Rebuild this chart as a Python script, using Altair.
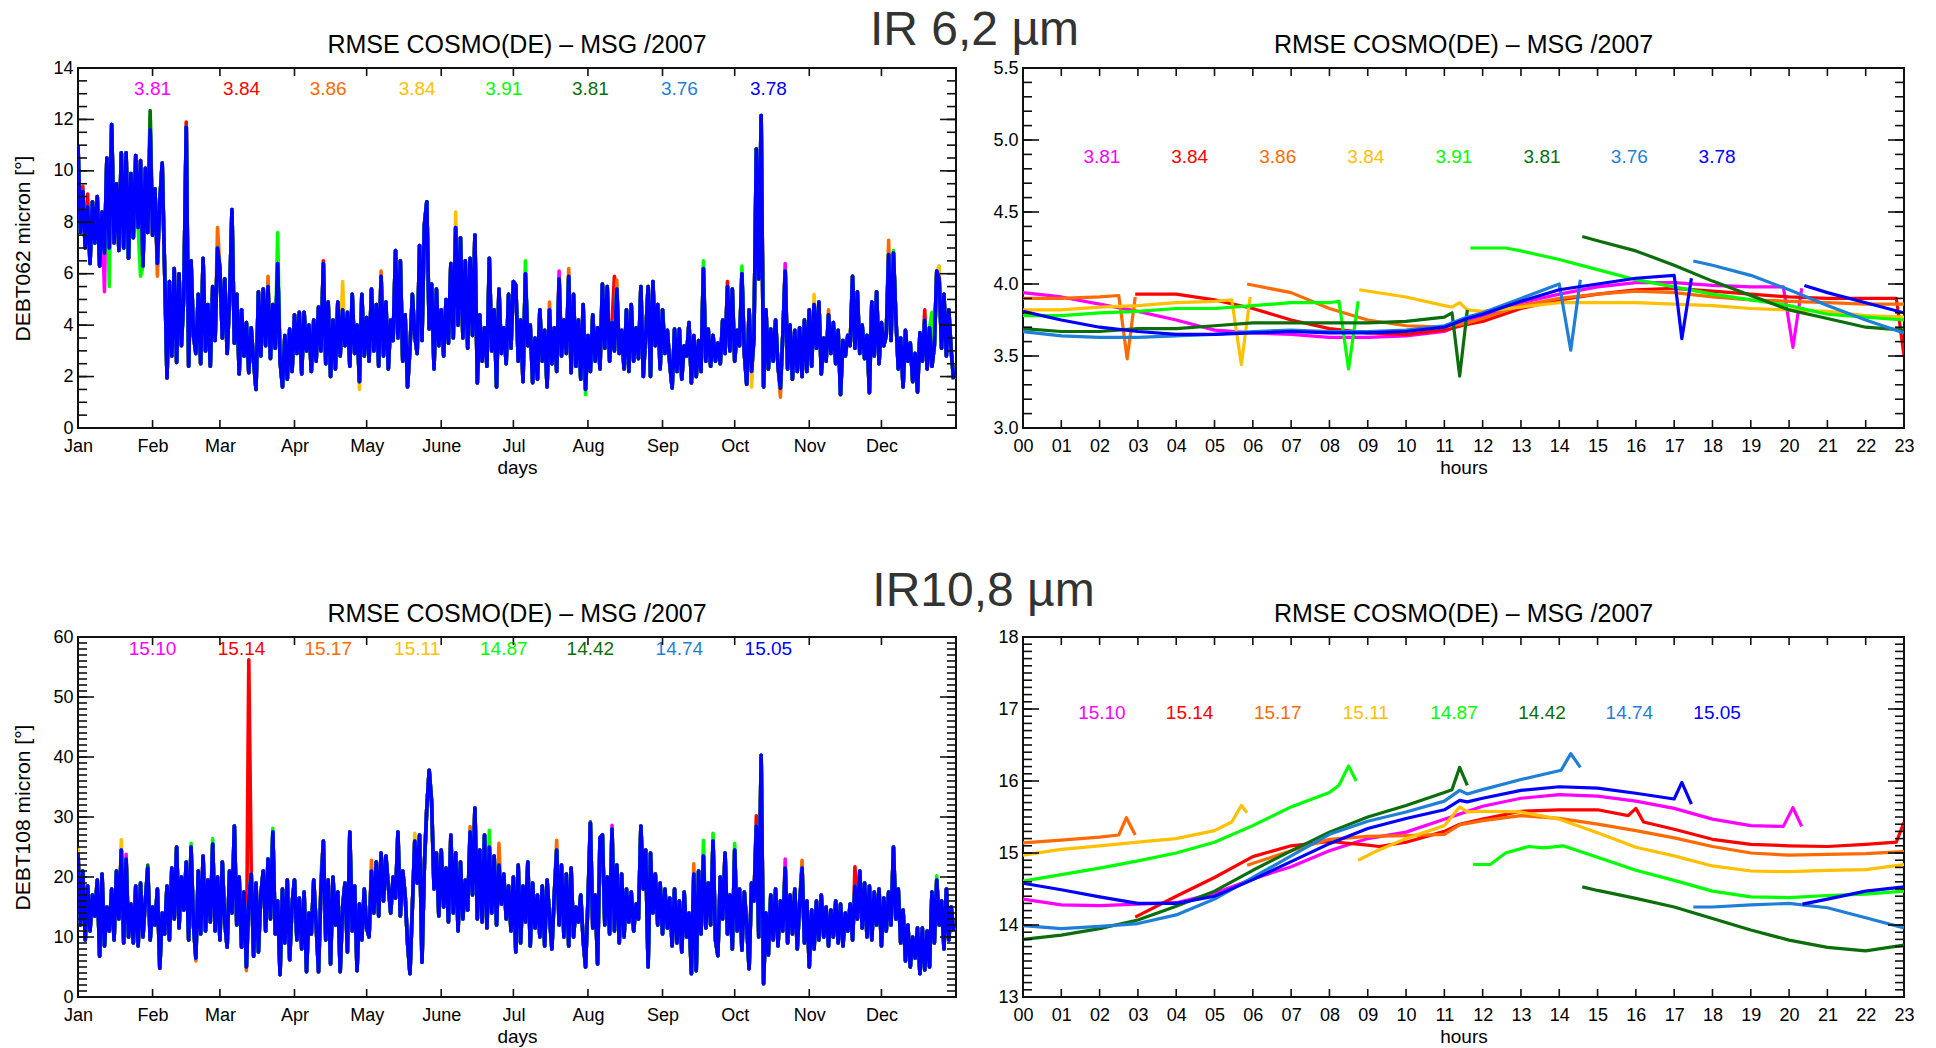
import altair as alt
import pandas as pd

FONT = "Liberation Sans"
FRAME = "#111111"

# Forecast runs and their line colours
SERIES = ["magenta", "red", "orange", "yellow", "green", "darkgreen", "steelblue", "blue"]
COLORS = ["#ff00ff", "#ff0000", "#ff6a00", "#ffc000", "#00ff00", "#0b6e0b", "#1f7fd6", "#0000ff"]

MONTH_STARTS = [0, 31, 59, 90, 120, 151, 181, 212, 243, 273, 304, 334]
MONTH_NAMES = ["Jan", "Feb", "Mar", "Apr", "May", "June", "Jul", "Aug", "Sep", "Oct", "Nov", "Dec"]
HOUR_TICKS = list(range(24))

IR62_MEANS = ["3.81", "3.84", "3.86", "3.84", "3.91", "3.81", "3.76", "3.78"]
IR108_MEANS = ["15.10", "15.14", "15.17", "15.11", "14.87", "14.42", "14.74", "15.05"]
DAILY_LABEL_DAYS = [31, 68, 104, 141, 177, 213, 250, 287]
HOURLY_LABEL_HOURS = [2.06, 4.35, 6.65, 8.95, 11.25, 13.55, 15.83, 18.12]

# ---------------- IR 6.2 daily RMSE (day of year 0..364) ----------------
IR62_DAILY = [
    11.0, 7.6, 9.2, 7.0, 8.6, 6.4, 8.8, 7.2, 9.0, 6.3,
    8.4, 6.8, 10.5, 7.0, 11.8, 7.2, 9.5, 6.9, 10.7, 7.0,
    10.7, 6.6, 9.9, 7.4, 10.6, 7.8, 10.4, 6.3, 10.1, 7.6,
    11.6, 7.5, 9.3, 6.4, 8.8, 10.3, 6.2, 1.95,
    5.7, 2.8, 6.2, 2.55, 6.0, 3.2, 5.2, 11.7, 2.4, 6.5,
    3.6, 2.9, 5.2, 2.5, 6.6, 3.0, 4.8, 2.4, 5.5, 3.4,
    7.0, 6.2, 3.5, 5.8, 2.9, 5.0, 8.5, 3.3, 5.2, 2.1,
    4.6, 2.8, 4.1, 2.15, 3.9, 2.6, 1.5, 5.3, 2.8, 5.4,
    3.2, 5.5, 2.7, 4.8, 3.1, 6.4, 2.6, 1.6, 3.6, 1.9,
    3.85, 2.2, 4.4, 2.9, 4.5, 2.1, 4.5, 3.0, 4.0, 2.2,
    4.2, 2.6, 4.7, 3.0, 6.4, 2.5, 4.9, 2.0, 4.2, 2.3,
    4.9, 2.8, 4.6, 3.2, 4.5, 2.4, 5.2, 2.9, 4.0, 1.8,
    5.2, 2.8, 4.3, 2.6, 5.4, 3.0, 4.8, 2.4, 5.9, 2.8,
    4.9, 2.3, 4.2, 3.4, 6.9, 3.5, 6.5, 2.6, 4.4, 1.6,
    3.1, 5.2, 3.6, 2.9, 7.1, 3.4, 7.9, 8.8, 3.85, 5.6,
    2.3, 5.4, 3.2, 4.6, 2.8, 5.0, 3.3, 6.4, 3.5, 7.8,
    4.0, 7.4, 3.5, 6.5, 3.1, 6.6, 3.6, 7.5, 1.75, 4.4,
    2.6, 3.9, 2.4, 6.6, 3.0, 4.6, 1.6, 5.4, 2.9, 3.9,
    2.5, 5.2, 3.1, 5.7, 5.55, 2.6, 4.2, 1.8, 6.0, 3.2,
    4.0, 1.76, 3.5, 1.9, 4.6, 2.6, 3.8, 1.6, 4.6, 2.5,
    3.9, 2.2, 5.8, 2.8, 4.2, 2.9, 5.9, 2.15, 5.2, 2.4,
    4.2, 1.9, 4.8, 1.5, 3.6, 2.2, 4.4, 2.6, 3.9, 2.3,
    5.6, 3.1, 5.5, 2.6, 4.1, 3.0, 5.4, 2.9, 3.8, 2.3,
    4.6, 2.2, 4.8, 2.6, 3.9, 2.7, 5.5, 2.0, 3.6, 5.5,
    2.0, 5.7, 3.2, 4.8, 2.3, 4.6, 2.9, 3.8, 2.5, 1.56,
    3.85, 2.2, 3.85, 1.9, 3.2, 2.8, 4.1, 1.75, 3.6, 2.0,
    3.4, 2.2, 6.2, 2.6, 3.85, 2.4, 3.6, 2.6, 3.3, 2.5,
    4.2, 2.9, 5.5, 3.0, 5.4, 2.6, 3.8, 3.2, 6.0, 2.9,
    1.7, 4.6, 2.2, 3.5, 10.85, 5.8, 12.15, 1.6, 4.6, 2.3,
    3.85, 2.6, 4.2, 2.4, 1.55, 3.6, 6.1, 2.3, 4.0, 1.9,
    3.8, 2.2, 3.9, 2.0, 4.2, 2.2, 4.6, 2.4, 4.8, 3.1,
    4.9, 2.1, 3.5, 2.6, 4.4, 2.9, 4.1, 2.5, 3.8, 1.3,
    3.4, 2.8, 3.6, 3.2, 5.9, 3.1, 5.3, 2.9, 4.0, 2.7,
    3.6, 1.37, 4.9, 2.8, 5.3, 2.5, 4.1, 3.2, 3.6, 6.75,
    3.4, 6.8, 4.3, 2.3, 3.5, 1.6, 3.8, 2.6, 3.3, 1.8,
    2.9, 1.4, 3.7, 2.6, 4.2, 2.3, 3.9, 2.4, 3.2, 6.1,
    5.8, 3.1, 5.2, 2.8, 4.6, 3.0, 1.9,
]
# days on which a run departs from the shared curve (day: value)
IR62_MAGENTA_PEAKS = {11: 5.3, 200: 6.1, 294: 6.4, 357: 6.0}
IR62_RED_PEAKS = {2: 9.4, 4: 9.1, 45: 11.9, 102: 6.5, 223: 5.9, 270: 5.7, 352: 4.6}
IR62_ORANGE_PEAKS = {33: 5.9, 58: 7.8, 79: 5.9, 126: 6.1, 196: 4.9, 204: 6.2,
                     224: 5.75, 292: 1.2, 312: 4.6, 337: 7.3}
IR62_YELLOW_PEAKS = {110: 5.7, 117: 1.5, 157: 8.4, 280: 1.6, 306: 5.2, 358: 6.3}
IR62_GREEN_PEAKS = {13: 5.5, 26: 5.9, 30: 12.2, 83: 7.6, 186: 6.5, 211: 1.3, 260: 6.5, 276: 6.3,
                    339: 6.9, 355: 4.5}
IR62_DKGREEN_PEAKS = {30: 12.35, 35: 10.3}
IR62_STEEL_PEAKS = {}

# ---------------- IR 10.8 daily RMSE ----------------
IR108_DAILY = [
    24.0, 12.0, 21.0, 9.5, 18.5, 11.0, 17.0, 13.5, 19.5, 6.8,
    20.5, 8.5, 15.0, 11.0, 18.0, 9.5, 21.0, 13.0, 24.5, 9.0,
    23.0, 10.0, 15.5, 9.0, 18.5, 8.5, 19.0, 10.0, 16.0, 21.5,
    9.5, 15.0, 12.0, 18.0, 4.8, 14.0, 10.5, 18.5, 9.5, 21.5,
    13.0, 25.0, 11.5, 20.0, 14.5, 22.5, 9.5, 25.0, 12.0, 6.5,
    21.0, 10.5, 23.5, 11.0, 19.5, 12.5, 25.5, 11.0, 20.0, 9.5,
    22.5, 12.5, 8.3, 21.0, 14.0, 28.5, 12.0, 20.0, 8.3, 17.5,
    5.0, 16.0, 20.5, 6.8, 19.0, 7.5, 17.0, 21.0, 11.0, 23.0,
    13.0, 27.5, 10.5, 16.0, 3.7, 18.0, 9.0, 19.5, 6.2, 15.5,
    19.5, 9.5, 16.5, 8.0, 17.5, 4.2, 14.0, 10.5, 19.5, 12.0,
    4.2, 18.0, 26.0, 9.5, 19.5, 5.5, 20.0, 12.0, 17.5, 4.2,
    15.0, 19.0, 7.5, 27.5, 11.0, 18.5, 4.4, 15.5, 9.5, 18.0,
    11.5, 10.0, 21.0, 14.0, 22.5, 13.5, 24.0, 16.0, 23.5, 18.5,
    14.0, 20.0, 16.5, 27.5, 13.5, 21.0, 17.0, 9.0, 3.9, 15.0,
    26.0, 19.0, 27.0, 5.8, 22.0, 31.5, 37.8, 32.5, 18.0, 24.0,
    13.5, 24.5, 15.0, 21.5, 12.5, 27.0, 14.0, 24.0, 11.0, 22.5,
    13.0, 19.5, 14.5, 27.5, 17.0, 31.5, 13.0, 24.5, 12.5, 27.0,
    11.5, 25.0, 14.0, 23.5, 12.0, 22.0, 15.5, 20.5, 13.0, 18.5,
    11.0, 20.0, 7.5, 22.0, 9.0, 18.5, 12.5, 22.5, 8.5, 19.0,
    11.5, 17.0, 10.0, 18.5, 8.5, 19.5, 13.5, 8.0, 17.0, 24.5,
    12.0, 22.0, 10.0, 20.5, 8.5, 21.5, 10.0, 15.0, 12.5, 17.0,
    9.5, 5.0, 16.0, 29.0, 11.5, 17.0, 5.5, 26.5, 27.0, 12.0,
    20.0, 10.5, 28.0, 11.0, 22.0, 9.0, 20.5, 10.0, 18.0, 12.5,
    17.5, 11.0, 15.5, 13.0, 28.5, 18.0, 24.5, 5.0, 24.0, 14.0,
    20.5, 12.0, 19.0, 10.5, 18.0, 11.5, 16.5, 8.5, 18.0, 9.0,
    16.0, 7.5, 17.5, 10.0, 14.0, 3.9, 20.5, 4.4, 21.0, 10.5,
    23.5, 11.5, 19.0, 12.0, 26.0, 9.5, 6.9, 20.0, 13.0, 24.0,
    10.5, 17.0, 8.0, 24.5, 11.0, 18.0, 7.8, 17.5, 12.0, 4.7,
    19.0, 16.0, 28.5, 10.0, 40.3, 2.2, 14.0, 7.0, 17.0, 9.5,
    18.0, 8.5, 16.0, 11.0, 21.5, 9.0, 17.0, 10.5, 18.0, 8.0,
    15.5, 21.5, 9.0, 16.0, 5.0, 14.5, 8.0, 16.0, 9.5, 17.0,
    10.0, 15.0, 8.5, 14.5, 10.0, 16.0, 9.0, 15.5, 8.5, 14.0,
    11.0, 15.5, 9.5, 18.5, 13.0, 21.0, 11.5, 19.0, 10.0, 18.5,
    9.5, 17.5, 12.0, 18.0, 8.5, 16.5, 11.0, 17.5, 12.0, 25.0,
    13.0, 18.0, 9.0, 14.5, 6.0, 12.0, 5.0, 10.0, 6.5, 11.5,
    3.9, 11.5, 4.5, 11.0, 5.0, 17.5, 9.0, 19.5, 12.0, 16.0,
    8.0, 18.0, 9.5, 15.0, 11.0,
]
IR108_MAGENTA_PEAKS = {20: 23.8, 222: 28.6, 294: 23.0}
IR108_RED_PEAKS = {71: 56.2, 72: 21.4, 282: 30.2, 323: 21.7}
IR108_ORANGE_PEAKS = {0: 24.5, 49: 6.0, 70: 4.4, 101: 20.3, 122: 22.8, 163: 28.4,
                      175: 25.6, 199: 26.1, 256: 22.2, 301: 22.8}
IR108_YELLOW_PEAKS = {0: 25.0, 18: 26.2, 140: 27.3, 147: 33.0}
IR108_GREEN_PEAKS = {47: 25.6, 56: 26.4, 81: 28.1, 171: 27.8, 260: 26.1, 264: 27.3,
                     273: 25.6, 357: 20.2}
IR108_DKGREEN_PEAKS = {29: 22.0, 213: 29.2}
IR108_STEEL_PEAKS = {}

# ---------------- IR 6.2 mean RMSE by hour (None = gap between segments) ----------------
IR62_MAGENTA_H = [0, 1, 2, 3, 4, 5, 6, 7, 8, 9, 10, 11, 11.6, 12, 13, 14, 15, 16, 17, 18, 19, 19.85, 20.1, 20.33]
IR62_MAGENTA_V = [3.94, 3.91, 3.86, 3.81, 3.75, 3.68, 3.66, 3.65, 3.63, 3.63, 3.64, 3.67, 3.74, 3.77, 3.87,
                  3.93, 3.98, 4.01, 4.01, 3.99, 3.98, 3.98, 3.56, 3.97]
IR62_RED_H = [2.93, 4, 5, 6, 7, 8, 9, 10, 11, 11.6, 12, 13, 14, 15, 16, 17, 18, 19, 20, 21, 22, 22.8, 23]
IR62_RED_V = [3.93, 3.93, 3.89, 3.83, 3.75, 3.69, 3.66, 3.65, 3.68, 3.72, 3.74, 3.83, 3.89, 3.93, 3.96,
              3.97, 3.95, 3.93, 3.91, 3.90, 3.90, 3.90, 3.50]
IR62_ORANGE_H = [0, 1, 2, 2.5, 2.72, 2.93, None, 5.85, 7, 8, 9, 10, 11, 11.6, 12, 13, 14, 15, 16, 17, 18,
                 19, 20, 21, 22, 23]
IR62_ORANGE_V = [3.90, 3.90, 3.91, 3.92, 3.48, 3.91, None, 4.00, 3.94, 3.83, 3.75, 3.71, 3.70, 3.73, 3.76,
                 3.85, 3.90, 3.93, 3.95, 3.94, 3.91, 3.89, 3.88, 3.87, 3.86, 3.86]
IR62_YELLOW_H = [0, 1, 2, 3, 4, 5, 5.45, 5.7, 5.93, None, 8.78, 10, 11, 11.2, 11.4, 11.6, 12, 13, 14, 15,
                 16, 17, 18, 19, 20, 21, 22, 23]
IR62_YELLOW_V = [3.82, 3.82, 3.84, 3.85, 3.87, 3.88, 3.89, 3.44, 3.91, None, 3.96, 3.91, 3.85, 3.84, 3.87,
                 3.82, 3.81, 3.84, 3.87, 3.87, 3.87, 3.86, 3.85, 3.83, 3.82, 3.81, 3.78, 3.77]
IR62_GREEN_H = [0, 1, 2, 3, 4, 5, 6, 7, 8, 8.25, 8.5, 8.75, None, 11.68, 12.6, 13, 14, 15, 16, 17, 18, 19,
                20, 21, 22, 23]
IR62_GREEN_V = [3.78, 3.78, 3.80, 3.81, 3.83, 3.83, 3.85, 3.87, 3.87, 3.88, 3.41, 3.88, None, 4.25, 4.25,
                4.23, 4.17, 4.10, 4.03, 3.98, 3.93, 3.89, 3.85, 3.79, 3.77, 3.75]
IR62_DKGREEN_H = [0, 1, 2, 3, 4, 5, 6, 7, 8, 9, 10, 11, 11.2, 11.4, 11.6, None, 14.6, 15, 16, 17, 18, 19,
                  20, 21, 22, 23]
IR62_DKGREEN_V = [3.69, 3.67, 3.67, 3.69, 3.69, 3.71, 3.73, 3.73, 3.73, 3.73, 3.74, 3.77, 3.80, 3.36, 3.82,
                  None, 4.33, 4.30, 4.23, 4.13, 4.02, 3.92, 3.82, 3.76, 3.70, 3.68]
IR62_STEEL_H = [0, 1, 2, 3, 4, 5, 6, 7, 8, 9, 10, 11, 11.6, 12, 13, 14, 14.3, 14.55, None, 17.5, 18, 19,
                20, 21, 22, 23]
IR62_STEEL_V = [3.67, 3.64, 3.63, 3.63, 3.64, 3.65, 3.67, 3.68, 3.67, 3.67, 3.68, 3.71, 3.77, 3.80, 3.90,
                4.00, 3.54, 4.03, None, 4.16, 4.13, 4.06, 3.96, 3.85, 3.75, 3.66]
IR62_BLUE_H = [0, 1, 2, 3, 4, 5, 6, 7, 8, 9, 10, 11, 11.6, 12, 13, 14, 15, 16, 17, 17.2, 17.45, None,
               20.4, 21, 22, 23]
IR62_BLUE_V = [3.81, 3.75, 3.70, 3.67, 3.65, 3.65, 3.66, 3.67, 3.66, 3.66, 3.67, 3.70, 3.76, 3.79, 3.88,
               3.96, 4.00, 4.04, 4.06, 3.62, 4.04, None, 3.99, 3.94, 3.87, 3.80]

# ---------------- IR 10.8 mean RMSE by hour ----------------
IR108_MAGENTA_H = [0, 1, 2, 3, 4, 5, 6, 7, 8, 9, 10, 11, 12, 13, 14, 15, 16, 17, 18, 19, 19.85, 20.1, 20.33]
IR108_MAGENTA_V = [14.36, 14.28, 14.27, 14.29, 14.31, 14.44, 14.64, 14.81, 15.03, 15.20, 15.29, 15.47,
                   15.65, 15.76, 15.81, 15.79, 15.72, 15.62, 15.47, 15.38, 15.37, 15.63, 15.37]
IR108_RED_H = [2.93, 4, 5, 6, 7, 8, 9, 9.3, 10, 11, 11.4, 12, 13, 14, 15, 15.8, 16, 16.2, 17, 18, 19, 20,
               21, 22, 22.8, 23]
IR108_RED_V = [14.11, 14.40, 14.66, 14.95, 15.10, 15.16, 15.11, 15.09, 15.15, 15.30, 15.40, 15.47, 15.58,
               15.60, 15.60, 15.52, 15.62, 15.43, 15.33, 15.19, 15.12, 15.10, 15.09, 15.12, 15.15, 15.43]
IR108_ORANGE_H = [0, 1, 2, 2.5, 2.7, 2.93, None, 5.85, 7, 8, 9, 10, 11, 11.4, 12, 13, 14, 15, 16, 17, 18,
                  19, 20, 21, 22, 23]
IR108_ORANGE_V = [15.14, 15.18, 15.22, 15.25, 15.49, 15.25, None, 14.83, 15.03, 15.19, 15.23, 15.24, 15.26,
                  15.39, 15.45, 15.52, 15.48, 15.40, 15.31, 15.21, 15.09, 15.00, 14.97, 14.98, 14.99, 15.02]
IR108_YELLOW_H = [0, 1, 2, 3, 4, 5, 5.45, 5.7, 5.85, None, 8.75, 9.2, 10, 11, 11.4, 11.6, 12, 13, 14, 15,
                  16, 17, 18, 19, 20, 21, 22, 23]
IR108_YELLOW_V = [14.97, 15.05, 15.10, 15.15, 15.20, 15.31, 15.43, 15.66, 15.56, None, 14.90, 15.02, 15.20,
                  15.38, 15.64, 15.57, 15.58, 15.57, 15.47, 15.28, 15.08, 14.96, 14.82, 14.75, 14.74, 14.76,
                  14.77, 14.84]
IR108_GREEN_H = [0, 1, 2, 3, 4, 5, 6, 7, 8, 8.25, 8.5, 8.7, None, 11.75, 12.2, 12.6, 13.2, 13.6, 14.1, 15,
                 16, 17, 18, 19, 20, 21, 22, 23]
IR108_GREEN_V = [14.61, 14.70, 14.79, 14.89, 15.00, 15.15, 15.38, 15.64, 15.84, 15.94, 16.21, 16.00, None,
                 14.84, 14.84, 15.00, 15.09, 15.07, 15.10, 14.94, 14.76, 14.62, 14.47, 14.39, 14.38, 14.41,
                 14.43, 14.47]
IR108_DKGREEN_H = [0, 1, 2, 3, 4, 5, 6, 7, 8, 9, 10, 11, 11.2, 11.4, 11.6, None, 14.6, 15, 16, 17, 18, 19,
                   20, 21, 22, 23]
IR108_DKGREEN_V = [13.80, 13.86, 13.95, 14.07, 14.26, 14.47, 14.76, 15.03, 15.29, 15.50, 15.66, 15.84,
                   15.88, 16.19, 15.94, None, 14.53, 14.48, 14.37, 14.25, 14.09, 13.93, 13.79, 13.69,
                   13.64, 13.72]
IR108_STEEL_H = [0, 1, 2, 3, 4, 5, 6, 7, 8, 9, 10, 11, 11.4, 11.6, 12, 13, 14.05, 14.3, 14.55, None, 17.5,
                 18, 19, 20, 21, 22, 23]
IR108_STEEL_V = [13.99, 13.95, 13.98, 14.02, 14.14, 14.36, 14.66, 14.96, 15.26, 15.44, 15.57, 15.72, 15.87,
                 15.82, 15.88, 16.02, 16.15, 16.38, 16.19, None, 14.25, 14.25, 14.28, 14.30, 14.24, 14.10,
                 13.96]
IR108_BLUE_H = [0, 1, 2, 3, 4, 5, 6, 7, 8, 9, 10, 11, 11.4, 11.6, 12, 13, 14, 15, 16, 17, 17.2, 17.45,
                None, 20.35, 21, 22, 23]
IR108_BLUE_V = [14.58, 14.49, 14.39, 14.30, 14.30, 14.40, 14.63, 14.88, 15.13, 15.34, 15.48, 15.60, 15.73,
                15.71, 15.76, 15.87, 15.92, 15.90, 15.83, 15.75, 15.98, 15.68, None, 14.29, 14.36, 14.47,
                14.53]


def daily_frame(base, peaks):
    rows = []
    for name, pk in zip(SERIES, peaks):
        for day, v in enumerate(base):
            rows.append({"x": day, "value": pk.get(day, v), "series": name, "segment": name})
    return pd.DataFrame(rows)


def hourly_frame(pairs):
    rows = []
    for name, (hours, values) in zip(SERIES, pairs):
        seg = 0
        for h, v in zip(hours, values):
            if h is None:
                seg += 1
                continue
            rows.append({"x": h, "value": v, "series": name, "segment": f"{name}-{seg}"})
    return pd.DataFrame(rows)


COLOR = alt.Color("series:N", scale=alt.Scale(domain=SERIES, range=COLORS), legend=None)


def panel(df, xdom, xticks, xlabel_expr, xtitle, ydom, ymajor, yminor, yfmt, ytitle,
          means, label_x, label_y, width, height, line_width):
    xs = alt.Scale(domain=xdom, nice=False, zero=False)
    ys = alt.Scale(domain=ydom, nice=False, zero=False)
    xaxis = alt.Axis(values=xticks, labelExpr=xlabel_expr, title=xtitle, ticks=False, domain=False,
                     grid=False, labelFontSize=18, labelFont=FONT, labelColor="black", labelPadding=9,
                     labelFlush=False, labelOverlap=False, titleFont=FONT, titleFontSize=19,
                     titleFontWeight="normal", titleColor="black", titlePadding=3)
    yaxis = alt.Axis(values=ymajor, format=yfmt, title=ytitle, ticks=False, domain=False, grid=False,
                     labelFontSize=18, labelFont=FONT, labelColor="black", labelPadding=5,
                     labelFlush=False, labelOverlap=False, titleFont=FONT, titleFontSize=21,
                     titleFontWeight="normal", titleColor="black", titlePadding=19)
    X = alt.X("x:Q", scale=xs, axis=xaxis)
    Y = alt.Y("value:Q", scale=ys, axis=yaxis)

    line = alt.Chart(df[df.series != "blue"]).mark_line(
        strokeWidth=line_width, strokeJoin="round", clip=True
    ).encode(x=X, y=Y, color=COLOR, detail="segment:N")
    top_line = alt.Chart(df[df.series == "blue"]).mark_line(
        strokeWidth=line_width, strokeJoin="round", clip=True
    ).encode(x=X, y=Y, color=COLOR, detail="segment:N")

    lab = pd.DataFrame({"x": label_x, "value": [label_y] * len(means), "text": means, "series": SERIES})
    labels = alt.Chart(lab).mark_text(fontSize=19, font=FONT, align="center", baseline="middle").encode(
        x=X, y=Y, text="text:N", color=COLOR)

    def yt(values, length):
        base = alt.Chart(pd.DataFrame({"value": values}))
        left = base.mark_rule(color=FRAME, strokeWidth=1.6).encode(
            y=Y, x=alt.value(0), x2=alt.value(length))
        right = base.mark_rule(color=FRAME, strokeWidth=1.6).encode(
            y=Y, x=alt.value(width), x2=alt.value(width - length))
        return [left, right]

    xbase = alt.Chart(pd.DataFrame({"x": xticks}))
    xb = xbase.mark_rule(color=FRAME, strokeWidth=1.6).encode(
        x=X, y=alt.value(height), y2=alt.value(height - 8))
    xt = xbase.mark_rule(color=FRAME, strokeWidth=1.6).encode(
        x=X, y=alt.value(0), y2=alt.value(8))

    layers = [line, top_line, labels, xb, xt] + yt(yminor, 9) + yt(ymajor, 16)
    return alt.layer(*layers).properties(
        width=width,
        height=height,
        title=alt.TitleParams("RMSE COSMO(DE) \u2013 MSG /2007", fontSize=25, font=FONT,
                              fontWeight="normal", color="black", anchor="middle", frame="group",
                              offset=1),
    )


MONTH_EXPR = "".join(f"datum.value == {d} ? '{n}' : " for d, n in zip(MONTH_STARTS, MONTH_NAMES)) + "''"
HOUR_EXPR = "datum.value < 10 ? '0' + datum.value : '' + datum.value"


def frange(a, b, step):
    n = int(round((b - a) / step))
    return [round(a + i * step, 4) for i in range(n + 1)]


ir62_daily = daily_frame(IR62_DAILY, [IR62_MAGENTA_PEAKS, IR62_RED_PEAKS, IR62_ORANGE_PEAKS,
                                      IR62_YELLOW_PEAKS, IR62_GREEN_PEAKS, IR62_DKGREEN_PEAKS,
                                      IR62_STEEL_PEAKS, {}])
ir108_daily = daily_frame(IR108_DAILY, [IR108_MAGENTA_PEAKS, IR108_RED_PEAKS, IR108_ORANGE_PEAKS,
                                        IR108_YELLOW_PEAKS, IR108_GREEN_PEAKS, IR108_DKGREEN_PEAKS,
                                        IR108_STEEL_PEAKS, {}])
ir62_hourly = hourly_frame([
    (IR62_MAGENTA_H, IR62_MAGENTA_V), (IR62_RED_H, IR62_RED_V), (IR62_ORANGE_H, IR62_ORANGE_V),
    (IR62_YELLOW_H, IR62_YELLOW_V), (IR62_GREEN_H, IR62_GREEN_V), (IR62_DKGREEN_H, IR62_DKGREEN_V),
    (IR62_STEEL_H, IR62_STEEL_V), (IR62_BLUE_H, IR62_BLUE_V)])
ir108_hourly = hourly_frame([
    (IR108_MAGENTA_H, IR108_MAGENTA_V), (IR108_RED_H, IR108_RED_V), (IR108_ORANGE_H, IR108_ORANGE_V),
    (IR108_YELLOW_H, IR108_YELLOW_V), (IR108_GREEN_H, IR108_GREEN_V), (IR108_DKGREEN_H, IR108_DKGREEN_V),
    (IR108_STEEL_H, IR108_STEEL_V), (IR108_BLUE_H, IR108_BLUE_V)])

W_L, W_R, H = 878, 881, 360

tl = panel(ir62_daily, [0, 365], MONTH_STARTS, MONTH_EXPR, "days", [0, 14], frange(0, 14, 2),
           frange(0, 14, 0.5), "d", "DEBT062 micron [\u00b0]", IR62_MEANS, DAILY_LABEL_DAYS, 13.2,
           W_L, H, 3.6)
tr = panel(ir62_hourly, [0, 23], HOUR_TICKS, HOUR_EXPR, "hours", [3.0, 5.5], frange(3.0, 5.5, 0.5),
           frange(3.0, 5.5, 0.1), ".1f", None, IR62_MEANS, HOURLY_LABEL_HOURS, 4.88, W_R, H, 3.2)
bl = panel(ir108_daily, [0, 365], MONTH_STARTS, MONTH_EXPR, "days", [0, 60], frange(0, 60, 10),
           frange(0, 60, 1), "d", "DEBT108 micron [\u00b0]", IR108_MEANS, DAILY_LABEL_DAYS, 58.0,
           W_L, H, 3.6)
br = panel(ir108_hourly, [0, 23], HOUR_TICKS, HOUR_EXPR, "hours", [13, 18], frange(13, 18, 1),
           frange(13, 18, 0.1), "d", None, IR108_MEANS, HOURLY_LABEL_HOURS, 16.95, W_R, H, 3.2)

top_row = alt.hconcat(tl, tr, spacing=33).properties(
    title=alt.TitleParams("IR 6,2 \u00b5m", fontSize=48, font=FONT, fontWeight="normal",
                          color="#333333", anchor="middle", offset=-23, dx=11))
bottom_row = alt.hconcat(bl, br, spacing=38).properties(
    title=alt.TitleParams("IR10,8 \u00b5m", fontSize=48, font=FONT, fontWeight="normal",
                          color="#333333", anchor="middle", offset=-15, dx=20))

chart = alt.vconcat(top_row, bottom_row, spacing=90).properties(
    padding={"left": 11, "top": 7, "right": 0, "bottom": 0}
).configure_view(stroke=FRAME, strokeWidth=2)

chart.save("out.html", embed_options={"renderer": "svg", "actions": False})
